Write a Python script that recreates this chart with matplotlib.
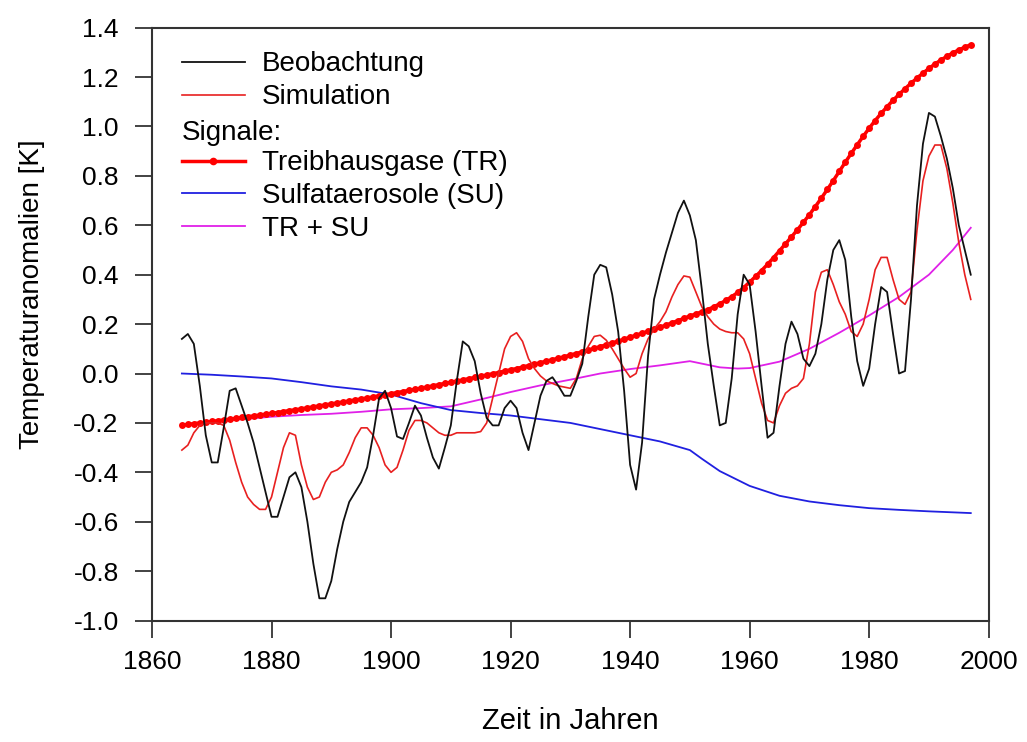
import numpy as np
import matplotlib
matplotlib.use("Agg")
import matplotlib.pyplot as plt
from matplotlib.lines import Line2D

plt.rcParams['font.family'] = ['Liberation Sans', 'DejaVu Sans']
plt.rcParams['axes.unicode_minus'] = False

# Jahre (jährliche Werte 1865-1997)
years = np.arange(1865, 1998)

# Beobachtung
beobachtung = [
    0.14, 0.16, 0.12, -0.05, -0.25,
    -0.36, -0.36, -0.22, -0.07, -0.06, -0.13, -0.20, -0.28, -0.38, -0.48,
    -0.58, -0.58, -0.50, -0.42, -0.40, -0.46, -0.60, -0.77, -0.91, -0.91,
    -0.84, -0.71, -0.60, -0.52, -0.48, -0.44, -0.38, -0.25, -0.10, -0.07,
    -0.14, -0.255, -0.265, -0.20, -0.13, -0.17, -0.26, -0.34, -0.385, -0.30,
    -0.21, -0.03, 0.13, 0.11, 0.05, -0.08, -0.18, -0.21, -0.21, -0.14,
    -0.11, -0.14, -0.24, -0.31, -0.20, -0.09, -0.03, -0.015, -0.05, -0.09,
    -0.09, -0.03, 0.04, 0.23, 0.40, 0.44, 0.43, 0.32, 0.17, -0.07,
    -0.37, -0.47, -0.28, 0.07, 0.30, 0.40, 0.49, 0.57, 0.65, 0.70,
    0.64, 0.54, 0.34, 0.12, -0.05, -0.21, -0.20, -0.02, 0.24, 0.40,
    0.36, 0.17, -0.05, -0.26, -0.24, -0.05, 0.12, 0.21, 0.16, 0.06,
    0.03, 0.08, 0.20, 0.38, 0.50, 0.54, 0.46, 0.23, 0.05, -0.05,
    0.02, 0.20, 0.35, 0.33, 0.16, 0.00, 0.01, 0.30, 0.68, 0.93,
    1.055, 1.04, 0.96, 0.87, 0.75, 0.60, 0.50, 0.40,
]

# Simulation
simulation = [
    -0.31, -0.29, -0.24, -0.21, -0.20,
    -0.20, -0.20, -0.21, -0.27, -0.36, -0.44, -0.50, -0.53, -0.55, -0.55,
    -0.50, -0.40, -0.30, -0.24, -0.25, -0.37, -0.46, -0.51, -0.50, -0.44,
    -0.40, -0.39, -0.37, -0.32, -0.26, -0.22, -0.22, -0.25, -0.30, -0.37,
    -0.40, -0.38, -0.31, -0.23, -0.19, -0.19, -0.20, -0.22, -0.24, -0.25,
    -0.25, -0.24, -0.24, -0.24, -0.24, -0.235, -0.20, -0.10, 0.00, 0.10,
    0.15, 0.165, 0.13, 0.06, 0.02, -0.01, -0.03, -0.04, -0.05, -0.055,
    -0.06, -0.02, 0.06, 0.11, 0.15, 0.155, 0.135, 0.10, 0.06, 0.02,
    -0.015, 0.00, 0.08, 0.14, 0.18, 0.21, 0.25, 0.31, 0.36, 0.395,
    0.39, 0.33, 0.27, 0.23, 0.20, 0.18, 0.17, 0.165, 0.165, 0.14,
    0.08, -0.02, -0.12, -0.19, -0.20, -0.13, -0.08, -0.06, -0.05, -0.02,
    0.12, 0.33, 0.41, 0.42, 0.36, 0.29, 0.24, 0.17, 0.15, 0.20,
    0.30, 0.42, 0.47, 0.47, 0.38, 0.30, 0.28, 0.33, 0.58, 0.78,
    0.88, 0.925, 0.925, 0.83, 0.69, 0.53, 0.40, 0.30,
]

# Signal Treibhausgase (TR)
treibhaus = [
    -0.210, -0.206, -0.203, -0.200, -0.197,
    -0.194, -0.191, -0.188, -0.185, -0.182, -0.178, -0.175, -0.172, -0.168, -0.165,
    -0.161, -0.158, -0.154, -0.150, -0.147, -0.143, -0.139, -0.135, -0.131, -0.127,
    -0.123, -0.119, -0.115, -0.111, -0.107, -0.103, -0.099, -0.095, -0.090, -0.086,
    -0.082, -0.077, -0.073, -0.068, -0.064, -0.059, -0.055, -0.050, -0.045, -0.040,
    -0.036, -0.031, -0.026, -0.021, -0.016, -0.011, -0.006, -0.001, 0.004, 0.010,
    0.015, 0.020, 0.026, 0.032, 0.038, 0.044, 0.050, 0.056, 0.062, 0.068,
    0.075, 0.081, 0.088, 0.095, 0.102, 0.109, 0.116, 0.124, 0.131, 0.139,
    0.147, 0.155, 0.163, 0.171, 0.179, 0.187, 0.196, 0.205, 0.214, 0.223,
    0.233, 0.241, 0.250, 0.259, 0.270, 0.282, 0.296, 0.311, 0.328, 0.348,
    0.370, 0.393, 0.417, 0.442, 0.469, 0.497, 0.525, 0.553, 0.582, 0.612,
    0.643, 0.676, 0.710, 0.745, 0.781, 0.818, 0.855, 0.891, 0.926, 0.960,
    0.993, 1.024, 1.053, 1.080, 1.106, 1.130, 1.153, 1.175, 1.196, 1.216,
    1.235, 1.253, 1.269, 1.284, 1.298, 1.310, 1.321, 1.331,
]

# Signal Sulfataerosole (SU)
su_years = [1865, 1870, 1875, 1880, 1885, 1890, 1895, 1900, 1905, 1910, 1915,
            1920, 1925, 1930, 1935, 1940, 1945, 1950, 1952, 1955, 1960, 1965,
            1970, 1975, 1980, 1985, 1990, 1995, 1997]
sulfat = [0.0, -0.005, -0.012, -0.02, -0.035, -0.052, -0.065, -0.085, -0.12,
          -0.148, -0.16, -0.17, -0.185, -0.20, -0.225, -0.25, -0.275, -0.31,
          -0.345, -0.395, -0.455, -0.495, -0.518, -0.533, -0.545, -0.552,
          -0.558, -0.563, -0.565]

# Signal TR + SU
trsu_years = [1865, 1870, 1875, 1880, 1885, 1890, 1895, 1900, 1905, 1910, 1915,
              1920, 1925, 1930, 1935, 1940, 1945, 1950, 1953, 1955, 1958, 1960,
              1965, 1970, 1975, 1980, 1985, 1990, 1994, 1997]
tr_su = [-0.21, -0.195, -0.185, -0.175, -0.168, -0.163, -0.155, -0.145, -0.14,
         -0.133, -0.105, -0.075, -0.048, -0.025, 0.0, 0.018, 0.033, 0.05, 0.035,
         0.025, 0.02, 0.022, 0.048, 0.10, 0.165, 0.235, 0.31, 0.40, 0.50, 0.59]

x_ticks = [1860, 1880, 1900, 1920, 1940, 1960, 1980, 2000]
y_ticks = [-1.0, -0.8, -0.6, -0.4, -0.2, 0.0, 0.2, 0.4, 0.6, 0.8, 1.0, 1.2, 1.4]

fig = plt.figure(figsize=(10.27, 7.42), dpi=100)
ax = fig.add_axes([0.148, 0.1637, 0.8147, 0.799])

ax.plot(trsu_years, tr_su, color="#e020e8", lw=1.3, zorder=2)
ax.plot(su_years, sulfat, color="#2020e0", lw=1.3, zorder=2)
ax.plot(years, treibhaus, color="#ff0000", lw=2.5, marker="o", ms=5,
        markeredgewidth=0, zorder=3)
ax.plot(years, simulation, color="#e82020", lw=1.2, zorder=4)
ax.plot(years, beobachtung, color="#111111", lw=1.3, zorder=5)

ax.set_xlim(1860, 2000)
ax.set_ylim(-1.0, 1.4)
ax.set_xticks(x_ticks)
ax.set_yticks(y_ticks)
ax.set_yticklabels([f"{v:.1f}" for v in y_ticks])

for s in ax.spines.values():
    s.set_color("#333333")
    s.set_linewidth(1.5)
ax.tick_params(direction="out", length=12, width=1.2, color="#222222",
               labelsize=19, pad=9)
ax.tick_params(axis="y", pad=12)

ax.set_xlabel("Zeit in Jahren", fontsize=21, labelpad=24)
ax.set_ylabel("Temperaturanomalien [K]", fontsize=20)
ax.yaxis.set_label_coords(-0.128, 0.55)

# Legende ohne Rahmen, "Signale:" als Zwischenüberschrift
handles = [
    Line2D([], [], color="#111111", lw=1.3),
    Line2D([], [], color="#e82020", lw=1.2),
    Line2D([], [], color="none"),
    Line2D([], [], color="#ff0000", lw=2.5, marker="o", ms=5.5, markeredgewidth=0,
           markevery=[0, 1, 2]),
    Line2D([], [], color="#2020e0", lw=1.3),
    Line2D([], [], color="#e020e8", lw=1.3),
]
labels = ["Beobachtung", "Simulation", "Signale:", "Treibhausgase (TR)",
          "Sulfataerosole (SU)", "TR + SU"]
leg = ax.legend(handles, labels, loc="upper left", bbox_to_anchor=(0.0355, 0.960),
                frameon=False, fontsize=20, handlelength=2.27, handletextpad=0.61,
                labelspacing=0.25, borderpad=0, borderaxespad=0)

# "Signale:" linksbündig an den Linienanfang setzen
fig.canvas.draw()
sig = leg.get_texts()[2]
bb = sig.get_window_extent()
yc = ax.transAxes.inverted().transform((0, (bb.y0 + bb.y1) / 2))[1]
sig.set_visible(False)
ax.text(0.0355, yc, "Signale:", transform=ax.transAxes, fontsize=20,
        va="center_baseline", ha="left")

fig.savefig("out.png", dpi=100)
